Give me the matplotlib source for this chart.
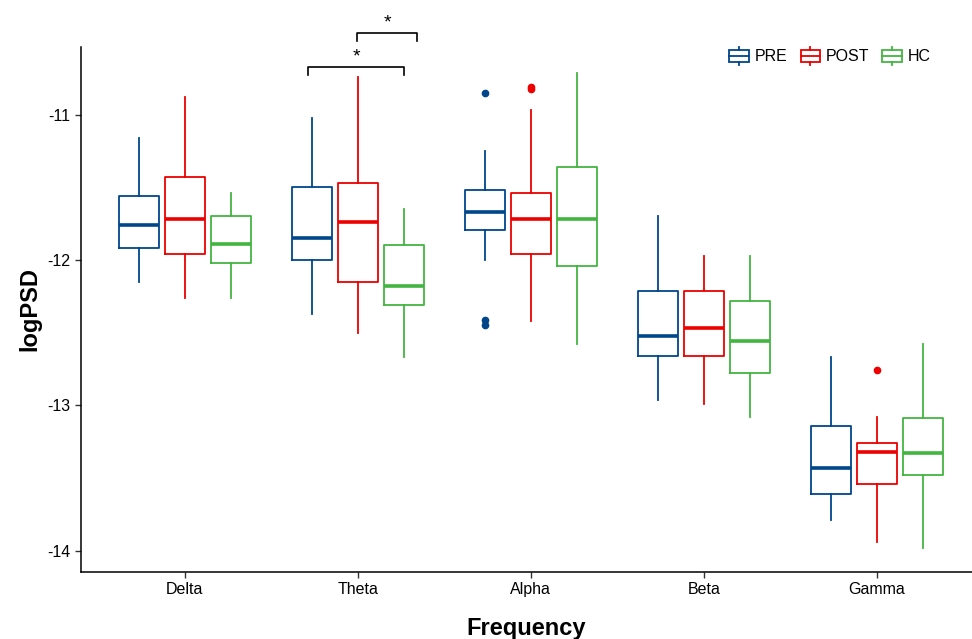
import numpy as np
import matplotlib.pyplot as plt
from matplotlib.legend_handler import HandlerBase
from matplotlib.patches import Rectangle
from matplotlib.lines import Line2D

plt.rcParams['font.family'] = ['Liberation Sans', 'DejaVu Sans']

bands = ['Delta', 'Theta', 'Alpha', 'Beta', 'Gamma']
groups = ['PRE', 'POST', 'HC']
colors = ['#00468B', '#ED0000', '#42B540']

# box summaries, one value per band
pre_lo = [-12.15, -12.37, -12.00, -12.96, -13.79]
pre_q1 = [-11.92, -12.00, -11.79, -12.66, -13.61]
pre_med = [-11.76, -11.85, -11.67, -12.52, -13.43]
pre_q3 = [-11.56, -11.50, -11.52, -12.21, -13.14]
pre_hi = [-11.16, -11.02, -11.25, -11.70, -12.67]
pre_out = [[], [], [-10.85, -12.41, -12.45], [], []]

post_lo = [-12.26, -12.50, -12.42, -12.99, -13.94]
post_q1 = [-11.96, -12.15, -11.96, -12.66, -13.54]
post_med = [-11.72, -11.74, -11.72, -12.47, -13.32]
post_q3 = [-11.43, -11.47, -11.54, -12.21, -13.26]
post_hi = [-10.88, -10.74, -10.97, -11.97, -13.08]
post_out = [[], [], [-10.81, -10.82], [], [-12.76]]

hc_lo = [-12.26, -12.67, -12.58, -13.08, -13.98]
hc_q1 = [-12.02, -12.31, -12.04, -12.78, -13.48]
hc_med = [-11.89, -12.18, -11.72, -12.56, -13.33]
hc_q3 = [-11.70, -11.90, -11.36, -12.28, -13.09]
hc_hi = [-11.54, -11.65, -10.71, -11.97, -12.58]
hc_out = [[], [], [], [], []]

summaries = [
    (pre_lo, pre_q1, pre_med, pre_q3, pre_hi, pre_out),
    (post_lo, post_q1, post_med, post_q3, post_hi, post_out),
    (hc_lo, hc_q1, hc_med, hc_q3, hc_hi, hc_out),
]


class BoxKey(HandlerBase):
    # small boxplot glyph for the legend keys
    def create_artists(self, legend, orig_handle, xdescent, ydescent,
                       width, height, fontsize, trans):
        c = orig_handle.get_color()
        x0, y0 = -xdescent, -ydescent
        xm = x0 + width / 2
        box = Rectangle((x0, y0 + height * 0.18), width, height * 0.64,
                        fill=False, edgecolor=c, lw=1.3, transform=trans)
        med = Line2D([x0, x0 + width], [y0 + height / 2] * 2, color=c, lw=1.3, transform=trans)
        w1 = Line2D([xm, xm], [y0, y0 + height * 0.18], color=c, lw=1.3, transform=trans)
        w2 = Line2D([xm, xm], [y0 + height * 0.82, y0 + height], color=c, lw=1.3, transform=trans)
        return [box, med, w1, w2]


fig = plt.figure(figsize=(9.72, 6.39), dpi=100)
ax = fig.add_axes([0.0833, 0.1049, 0.9167, 0.8215])

x = np.arange(1, len(bands) + 1)
offsets = [-0.265, 0.0, 0.265]

for (lo, q1, med, q3, hi, out), off, c in zip(summaries, offsets, colors):
    stats = []
    for i in range(len(bands)):
        stats.append(dict(whislo=lo[i], q1=q1[i], med=med[i], q3=q3[i],
                          whishi=hi[i], fliers=out[i]))
    ax.bxp(stats, positions=x + off, widths=0.23, showcaps=False,
           boxprops=dict(color=c, lw=1.3),
           whiskerprops=dict(color=c, lw=1.3),
           medianprops=dict(color=c, lw=2.6, solid_capstyle='butt'),
           flierprops=dict(marker='o', markerfacecolor=c, markeredgecolor=c,
                           markersize=4.5))

# significance brackets over Theta
kw = dict(color='black', lw=1.2, clip_on=False)
ax.plot([1.71, 1.71, 2.265, 2.265], [-10.727, -10.67, -10.67, -10.727], **kw)
ax.text(1.99, -10.60, '*', ha='center', va='center', fontsize=14, clip_on=False)
ax.plot([1.995, 1.995, 2.345, 2.345], [-10.49, -10.44, -10.44, -10.49], **kw)
ax.text(2.17, -10.37, '*', ha='center', va='center', fontsize=14, clip_on=False)

ax.set_xlim(0.4, 5.55)
ax.set_ylim(-14.147, -10.534)
ax.set_xticks(x)
ax.set_xticklabels(bands)
ax.set_yticks([-14, -13, -12, -11])
ax.set_yticklabels(['-14', '-13', '-12', '-11'])
ax.tick_params(labelsize=11.5, length=4, width=1, color='#333333', labelcolor='black')

for s in ['top', 'right']:
    ax.spines[s].set_visible(False)
for s in ['left', 'bottom']:
    ax.spines[s].set_linewidth(1.1)

ax.set_xlabel('Frequency', fontsize=17, fontweight='bold', labelpad=14)
ax.set_ylabel('logPSD', fontsize=17, fontweight='bold', labelpad=4)

handles = [Line2D([], [], color=c) for c in colors]
ax.legend(handles, groups, handler_map={Line2D: BoxKey()}, loc='upper right',
          bbox_to_anchor=(0.97, 1.028), ncol=3, frameon=False, fontsize=11.5,
          handlelength=1.2, handleheight=1.4, handletextpad=0.4, columnspacing=0.8)

fig.savefig('out.png', dpi=100)
